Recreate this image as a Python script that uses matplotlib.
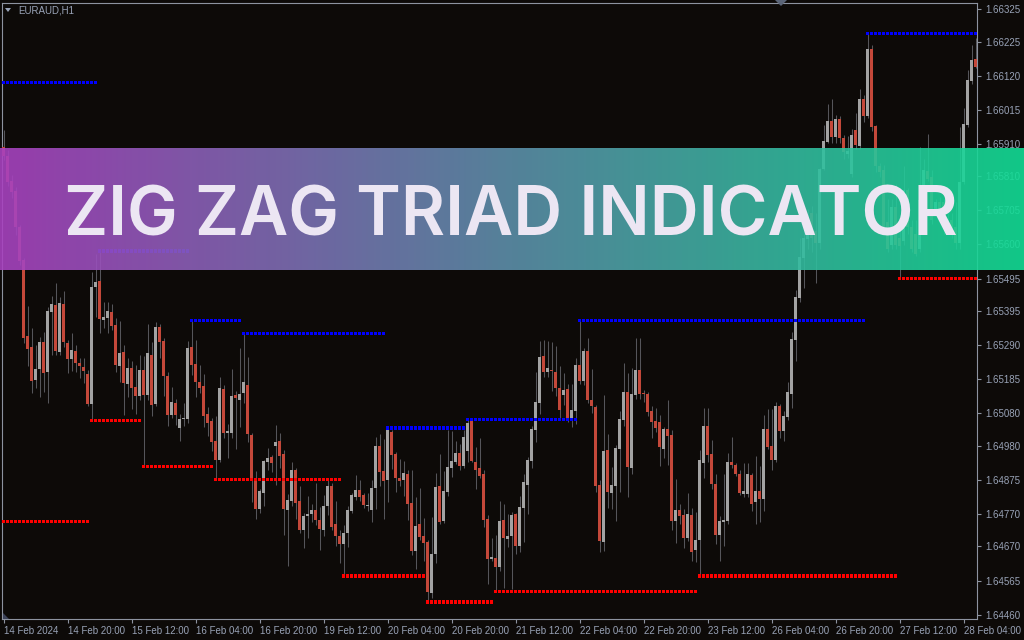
import numpy as np
import matplotlib
matplotlib.use("Agg")
import matplotlib.pyplot as plt
from matplotlib.patches import Polygon

W, H = 1024, 640

# EURAUD H1 candles (one per hour, 14 Feb 04:00 .. 28 Feb 07:00)
opens = [
    1.65900, 1.65872, 1.65795, 1.65765, 1.65654, 1.65552, 1.65318, 1.65284, 1.65183, 1.65216,
    1.65300, 1.65207, 1.65392, 1.65414, 1.65269, 1.65417, 1.65297, 1.65247, 1.65272, 1.65235,
    1.65223, 1.65201, 1.65109, 1.65469, 1.65488, 1.65367, 1.65374, 1.65392, 1.65352, 1.65226,
    1.65269, 1.65170, 1.65220, 1.65161, 1.65133, 1.65213, 1.65136, 1.65260, 1.65109, 1.65346,
    1.65303, 1.65195, 1.65075, 1.65112, 1.65035, 1.65063, 1.65063, 1.65284, 1.65232, 1.65176,
    1.65164, 1.65078, 1.65056, 1.64995, 1.64936, 1.65155, 1.65019, 1.65019, 1.65136, 1.65121,
    1.65143, 1.65167, 1.65013, 1.64878, 1.64785, 1.64835, 1.64930, 1.64945, 1.64979, 1.64995,
    1.64955, 1.64782, 1.64810, 1.64905, 1.64810, 1.64721, 1.64764, 1.64770, 1.64782, 1.64751,
    1.64721, 1.64794, 1.64856, 1.64739, 1.64702, 1.64678, 1.64711, 1.64779, 1.64822, 1.64844,
    1.64828, 1.64794, 1.64782, 1.64850, 1.64979, 1.64902, 1.64875, 1.65022, 1.64955, 1.64881,
    1.64875, 1.64893, 1.64804, 1.64656, 1.64739, 1.64702, 1.64684, 1.64527, 1.64647, 1.64856,
    1.64748, 1.64838, 1.64912, 1.64930, 1.64958, 1.64918, 1.64964, 1.65056, 1.64930, 1.64912,
    1.64893, 1.64754, 1.64631, 1.64634, 1.64607, 1.64751, 1.64693, 1.64702, 1.64770, 1.64671,
    1.64788, 1.64859, 1.64933, 1.65029, 1.65112, 1.65257, 1.65207, 1.65213, 1.65207, 1.65158,
    1.65136, 1.65155, 1.65066, 1.65087, 1.65229, 1.65180, 1.65272, 1.65121, 1.65099, 1.64859,
    1.64684, 1.64967, 1.64835, 1.64856, 1.64970, 1.65059, 1.65146, 1.64912, 1.65136, 1.65213,
    1.65143, 1.65140, 1.65087, 1.65056, 1.65053, 1.64970, 1.65032, 1.65013, 1.64748, 1.64782,
    1.64767, 1.64696, 1.64767, 1.64659, 1.64690, 1.64927, 1.65041, 1.64955, 1.64862, 1.64705,
    1.64745, 1.64748, 1.64930, 1.64921, 1.64893, 1.64832, 1.64832, 1.64890, 1.64807, 1.64841,
    1.64816, 1.65032, 1.64979, 1.64936, 1.65103, 1.65026, 1.65069, 1.65140, 1.65306, 1.65435,
    1.65558, 1.65617, 1.65697, 1.65641, 1.65605, 1.65832, 1.65916, 1.65980, 1.65931, 1.65986,
    1.65928, 1.65879, 1.65817, 1.65953, 1.65903, 1.66048, 1.65996, 1.66202, 1.65965, 1.65842,
    1.65829, 1.65669, 1.65598, 1.65715, 1.65620, 1.65611, 1.65768, 1.65654, 1.65632, 1.65586,
    1.65718, 1.65826, 1.65808, 1.65709, 1.65731, 1.65731, 1.65675, 1.65675, 1.65654, 1.65605,
    1.65792, 1.65967, 1.66104, 1.66171,
]
highs = [
    1.65953, 1.65891, 1.65814, 1.65777, 1.65660, 1.65558, 1.65410, 1.65343, 1.65290, 1.65315,
    1.65330, 1.65407, 1.65441, 1.65481, 1.65438, 1.65457, 1.65306, 1.65327, 1.65290, 1.65251,
    1.65251, 1.65213, 1.65515, 1.65571, 1.65580, 1.65423, 1.65423, 1.65417, 1.65374, 1.65364,
    1.65290, 1.65251, 1.65241, 1.65229, 1.65260, 1.65257, 1.65355, 1.65300, 1.65361, 1.65355,
    1.65312, 1.65207, 1.65161, 1.65124, 1.65078, 1.65112, 1.65303, 1.65367, 1.65306, 1.65229,
    1.65201, 1.65099, 1.65066, 1.65072, 1.65192, 1.65167, 1.65047, 1.65216, 1.65149, 1.65281,
    1.65327, 1.65254, 1.65019, 1.64902, 1.64847, 1.64936, 1.64973, 1.64952, 1.65044, 1.65019,
    1.64967, 1.64831, 1.64930, 1.64912, 1.64856, 1.64773, 1.64825, 1.64801, 1.64865, 1.64791,
    1.64828, 1.64878, 1.64865, 1.64810, 1.64721, 1.64736, 1.64794, 1.64835, 1.64890, 1.64875,
    1.64835, 1.64835, 1.64875, 1.65007, 1.65016, 1.65001, 1.65035, 1.65029, 1.64961, 1.64939,
    1.64933, 1.64905, 1.64905, 1.64822, 1.64850, 1.64758, 1.64690, 1.64761, 1.64896, 1.64955,
    1.64902, 1.65029, 1.65026, 1.64995, 1.64985, 1.65029, 1.65062, 1.65056, 1.64976, 1.65004,
    1.64905, 1.64767, 1.64696, 1.64705, 1.64810, 1.64801, 1.64770, 1.64776, 1.64773, 1.64825,
    1.64893, 1.64945, 1.65041, 1.65207, 1.65303, 1.65306, 1.65303, 1.65300, 1.65287, 1.65226,
    1.65204, 1.65170, 1.65170, 1.65251, 1.65367, 1.65281, 1.65312, 1.65216, 1.65106, 1.64875,
    1.65136, 1.65016, 1.64915, 1.64982, 1.65087, 1.65235, 1.65204, 1.65220, 1.65312, 1.65312,
    1.65152, 1.65146, 1.65103, 1.65096, 1.65075, 1.65038, 1.65121, 1.65029, 1.64878, 1.64801,
    1.64785, 1.64835, 1.64788, 1.64776, 1.64967, 1.65096, 1.65096, 1.64998, 1.64893, 1.64764,
    1.64893, 1.64958, 1.65007, 1.64927, 1.64905, 1.64927, 1.64927, 1.64896, 1.64948, 1.64918,
    1.65075, 1.65093, 1.65093, 1.65115, 1.65109, 1.65087, 1.65176, 1.65330, 1.65460, 1.65620,
    1.65654, 1.65709, 1.65718, 1.65697, 1.65836, 1.65967, 1.66033, 1.66048, 1.65999, 1.65996,
    1.65937, 1.65934, 1.65956, 1.66005, 1.66079, 1.66060, 1.66251, 1.66214, 1.65967, 1.65851,
    1.65845, 1.65740, 1.65740, 1.65786, 1.65641, 1.65842, 1.65775, 1.65675, 1.65675, 1.65900,
    1.65863, 1.65940, 1.65829, 1.65740, 1.65746, 1.65740, 1.65697, 1.65697, 1.65731, 1.65962,
    1.66020, 1.66137, 1.66214, 1.66236,
]
lows = [
    1.65860, 1.65780, 1.65743, 1.65629, 1.65537, 1.65297, 1.65226, 1.65143, 1.65158, 1.65130,
    1.65146, 1.65112, 1.65260, 1.65260, 1.65260, 1.65284, 1.65204, 1.65210, 1.65207, 1.65189,
    1.65173, 1.65103, 1.65059, 1.65377, 1.65327, 1.65343, 1.65327, 1.65337, 1.65207, 1.65176,
    1.65075, 1.65130, 1.65093, 1.65078, 1.65121, 1.64915, 1.65121, 1.65072, 1.65103, 1.65251,
    1.65133, 1.65041, 1.65066, 1.65044, 1.64995, 1.65041, 1.65050, 1.65198, 1.65130, 1.65143,
    1.65038, 1.65010, 1.64964, 1.64875, 1.64930, 1.65004, 1.64942, 1.65004, 1.64970, 1.65038,
    1.65112, 1.64992, 1.64807, 1.64754, 1.64773, 1.64794, 1.64905, 1.64899, 1.64859, 1.64912,
    1.64705, 1.64610, 1.64794, 1.64754, 1.64711, 1.64665, 1.64696, 1.64745, 1.64736, 1.64659,
    1.64702, 1.64767, 1.64721, 1.64671, 1.64619, 1.64579, 1.64668, 1.64773, 1.64813, 1.64810,
    1.64788, 1.64779, 1.64745, 1.64785, 1.64856, 1.64754, 1.64807, 1.64909, 1.64838, 1.64856,
    1.64825, 1.64751, 1.64644, 1.64600, 1.64690, 1.64625, 1.64499, 1.64511, 1.64619, 1.64739,
    1.64742, 1.64825, 1.64884, 1.64924, 1.64905, 1.64912, 1.64930, 1.64930, 1.64847, 1.64881,
    1.64730, 1.64554, 1.64625, 1.64530, 1.64594, 1.64542, 1.64668, 1.64539, 1.64647, 1.64653,
    1.64684, 1.64770, 1.64912, 1.64992, 1.65078, 1.65192, 1.65192, 1.65149, 1.65133, 1.65066,
    1.65106, 1.65053, 1.65038, 1.65047, 1.65170, 1.65167, 1.65112, 1.65081, 1.64838, 1.64653,
    1.64656, 1.64788, 1.64785, 1.64748, 1.64838, 1.65041, 1.64822, 1.64893, 1.65124, 1.65124,
    1.65115, 1.65072, 1.65004, 1.65022, 1.64918, 1.64942, 1.64921, 1.64721, 1.64681, 1.64739,
    1.64665, 1.64687, 1.64625, 1.64622, 1.64579, 1.64881, 1.64930, 1.64847, 1.64678, 1.64625,
    1.64671, 1.64739, 1.64912, 1.64887, 1.64828, 1.64822, 1.64822, 1.64779, 1.64739, 1.64745,
    1.64779, 1.64970, 1.64905, 1.64930, 1.65004, 1.64995, 1.65059, 1.65096, 1.65241, 1.65423,
    1.65466, 1.65586, 1.65577, 1.65481, 1.65586, 1.65829, 1.65913, 1.65913, 1.65913, 1.65913,
    1.65863, 1.65866, 1.65808, 1.65894, 1.65894, 1.65977, 1.65990, 1.65950, 1.65823, 1.65808,
    1.65632, 1.65577, 1.65586, 1.65586, 1.65494, 1.65598, 1.65632, 1.65577, 1.65565, 1.65577,
    1.65709, 1.65796, 1.65663, 1.65697, 1.65675, 1.65632, 1.65641, 1.65620, 1.65586, 1.65586,
    1.65786, 1.65962, 1.66094, 1.66144,
]
closes = [
    1.65873, 1.65792, 1.65762, 1.65654, 1.65549, 1.65312, 1.65278, 1.65180, 1.65216, 1.65300,
    1.65204, 1.65395, 1.65417, 1.65272, 1.65420, 1.65300, 1.65247, 1.65275, 1.65235, 1.65226,
    1.65210, 1.65109, 1.65469, 1.65484, 1.65370, 1.65377, 1.65395, 1.65349, 1.65229, 1.65266,
    1.65173, 1.65220, 1.65158, 1.65133, 1.65213, 1.65136, 1.65266, 1.65106, 1.65346, 1.65300,
    1.65195, 1.65075, 1.65115, 1.65075, 1.65063, 1.65066, 1.65281, 1.65229, 1.65176, 1.65158,
    1.65072, 1.65050, 1.64992, 1.64936, 1.65158, 1.65019, 1.65026, 1.65133, 1.65127, 1.65140,
    1.65176, 1.65016, 1.64878, 1.64785, 1.64841, 1.64933, 1.64942, 1.64927, 1.64992, 1.64948,
    1.64785, 1.64813, 1.64905, 1.64804, 1.64721, 1.64764, 1.64770, 1.64782, 1.64751, 1.64724,
    1.64794, 1.64856, 1.64730, 1.64702, 1.64678, 1.64711, 1.64782, 1.64828, 1.64844, 1.64822,
    1.64798, 1.64798, 1.64850, 1.64979, 1.64899, 1.64872, 1.65029, 1.64952, 1.64881, 1.64872,
    1.64896, 1.64801, 1.64656, 1.64733, 1.64699, 1.64681, 1.64530, 1.64647, 1.64853, 1.64745,
    1.64841, 1.64915, 1.64933, 1.64958, 1.64918, 1.65007, 1.65050, 1.64933, 1.64905, 1.64887,
    1.64751, 1.64631, 1.64637, 1.64607, 1.64748, 1.64696, 1.64702, 1.64767, 1.64671, 1.64791,
    1.64868, 1.64936, 1.65032, 1.65115, 1.65254, 1.65207, 1.65220, 1.65210, 1.65158, 1.65090,
    1.65152, 1.65066, 1.65090, 1.65229, 1.65180, 1.65272, 1.65121, 1.65103, 1.64856, 1.64687,
    1.64964, 1.64838, 1.64859, 1.64973, 1.65063, 1.65146, 1.64915, 1.65140, 1.65213, 1.65140,
    1.65140, 1.65084, 1.65053, 1.65035, 1.64976, 1.65032, 1.65010, 1.64748, 1.64782, 1.64764,
    1.64696, 1.64770, 1.64653, 1.64690, 1.64936, 1.65041, 1.64952, 1.64862, 1.64705, 1.64748,
    1.64751, 1.64930, 1.64921, 1.64893, 1.64835, 1.64841, 1.64893, 1.64801, 1.64841, 1.64816,
    1.65032, 1.64976, 1.64936, 1.65103, 1.65026, 1.65072, 1.65146, 1.65309, 1.65438, 1.65561,
    1.65620, 1.65675, 1.65620, 1.65605, 1.65832, 1.65919, 1.65980, 1.65931, 1.65986, 1.65928,
    1.65885, 1.65888, 1.65937, 1.65906, 1.66048, 1.65996, 1.66202, 1.65962, 1.65842, 1.65823,
    1.65654, 1.65586, 1.65715, 1.65598, 1.65595, 1.65768, 1.65654, 1.65586, 1.65571, 1.65737,
    1.65829, 1.65802, 1.65675, 1.65731, 1.65697, 1.65654, 1.65654, 1.65632, 1.65605, 1.65792,
    1.65971, 1.66107, 1.66168, 1.66147,
]

# Zig Zag Triad levels: first bar, last bar, price
blue_start = [0, 24, 47, 60, 96, 116, 144, 216]
blue_end = [23, 46, 59, 95, 115, 143, 215, 243]
blue_price = [1.66100, 1.65580, 1.65367, 1.65327, 1.65035, 1.65062, 1.65367, 1.66251]

red_start = [0, 22, 35, 53, 85, 106, 123, 174, 224]
red_end = [21, 34, 52, 84, 105, 122, 173, 223, 243]
red_price = [1.64748, 1.65059, 1.64915, 1.64875, 1.64579, 1.64499, 1.64530, 1.64579, 1.65494]

time_labels = ["14 Feb 2024", "14 Feb 20:00", "15 Feb 12:00", "16 Feb 04:00",
               "16 Feb 20:00", "19 Feb 12:00", "20 Feb 04:00", "20 Feb 20:00",
               "21 Feb 12:00", "22 Feb 04:00", "22 Feb 20:00", "23 Feb 12:00",
               "26 Feb 04:00", "26 Feb 20:00", "27 Feb 12:00", "28 Feb 04:00"]
price_ticks = [1.66325, 1.66225, 1.66120, 1.66015, 1.65910, 1.65810, 1.65705,
               1.65600, 1.65495, 1.65395, 1.65290, 1.65185, 1.65080, 1.64980,
               1.64875, 1.64770, 1.64670, 1.64565, 1.64460]

BG = "#0d0a08"
BULL = "#a3a3a3"
BEAR = "#c4483a"
WICK = "#55555a"
AXC = "#8d93a0"
TXT = "#98a2b6"
small_font = ["Liberation Sans", "DejaVu Sans"]
small_size = 7

fig = plt.figure(figsize=(W / 100, H / 100), dpi=100, facecolor=BG)
ax = fig.add_axes([2 / W, 21 / H, 975 / W, 616 / H], facecolor=BG)

x = np.arange(len(opens))
o = np.array(opens)
c = np.array(closes)
up = c > o
ax.vlines(x, lows, highs, color=WICK, lw=0.75, zorder=2)
body_lo = np.minimum(o, c)
body_h = np.maximum(np.abs(c - o), 0.00003)
ax.bar(x, body_h, bottom=body_lo, width=0.75, color=np.where(up, BULL, BEAR).tolist(),
       lw=0, zorder=3, antialiased=False)

# dotted level lines: one small square per bar
dot_h = 0.0000975
for starts, ends, prices, col in ((blue_start, blue_end, blue_price, "#0000ff"),
                                  (red_start, red_end, red_price, "#ff0000")):
    for s, e, p in zip(starts, ends, prices):
        xs = np.arange(s, e + 1)
        ax.bar(xs, dot_h, bottom=p - dot_h / 2, width=0.68, color=col, lw=0,
               antialiased=False, zorder=4)

ax.set_xlim(-0.375, 243.375)
ax.set_ylim(1.644465, 1.663438)

ax.yaxis.tick_right()
ax.set_yticks(price_ticks)
ax.set_yticklabels([f"{p:.5f}" for p in price_ticks], family=small_font,
                   fontsize=small_size, color=TXT)
ax.set_xticks(np.arange(0, 16 * len(time_labels), 16))
ax.set_xticklabels(time_labels, family=small_font, fontsize=small_size, color=TXT, ha="left")
ax.tick_params(axis="both", colors=AXC, length=3, width=0.8, labelcolor=TXT)
ax.tick_params(axis="y", pad=3)
ax.tick_params(axis="x", pad=2)
for sp in ax.spines.values():
    sp.set_color(AXC)
    sp.set_linewidth(0.8)

def px(xp, yp):
    return (xp / W, 1 - yp / H)

# symbol caption and small markers
fig.add_artist(Polygon([px(5, 8), px(11, 8), px(8, 12)], closed=True,
                       transform=fig.transFigure, color=TXT, lw=0))
fig.text(18 / W, 1 - 10.5 / H, "EURAUD,H1", family=small_font, fontsize=small_size,
         color=TXT, va="center", ha="left")
fig.add_artist(Polygon([px(775, 0), px(787, 0), px(781, 6)], closed=True,
                       transform=fig.transFigure, color="#5b6578", lw=0))
fig.add_artist(Polygon([px(3, 613), px(3, 619), px(9, 619)], closed=True,
                       transform=fig.transFigure, color="#3c4258", lw=0))

# banner
bax = fig.add_axes([0, (H - 270) / H, 1, 122 / H], zorder=10)
g = np.linspace(0, 1, 512)[:, None]
left = np.array([168, 66, 192]) / 255
right = np.array([18, 222, 150]) / 255
img = left * (1 - g) + right * g
bax.imshow(img[None, :, :], aspect="auto", extent=[0, 1, 0, 1], alpha=0.9)
bax.set_axis_off()

title = fig.text(511 / W, 1 - 236 / H, "ZIG ZAG TRIAD INDICATOR", ha="center", va="baseline",
                 fontsize=46, fontweight="semibold", family=["Inter", "DejaVu Sans"],
                 color="#ece6f3", zorder=11)
fig.canvas.draw()
bb = title.get_window_extent()
title.set_fontsize(46 * 893 / bb.width)

fig.savefig("out.png", dpi=100, facecolor=BG)
